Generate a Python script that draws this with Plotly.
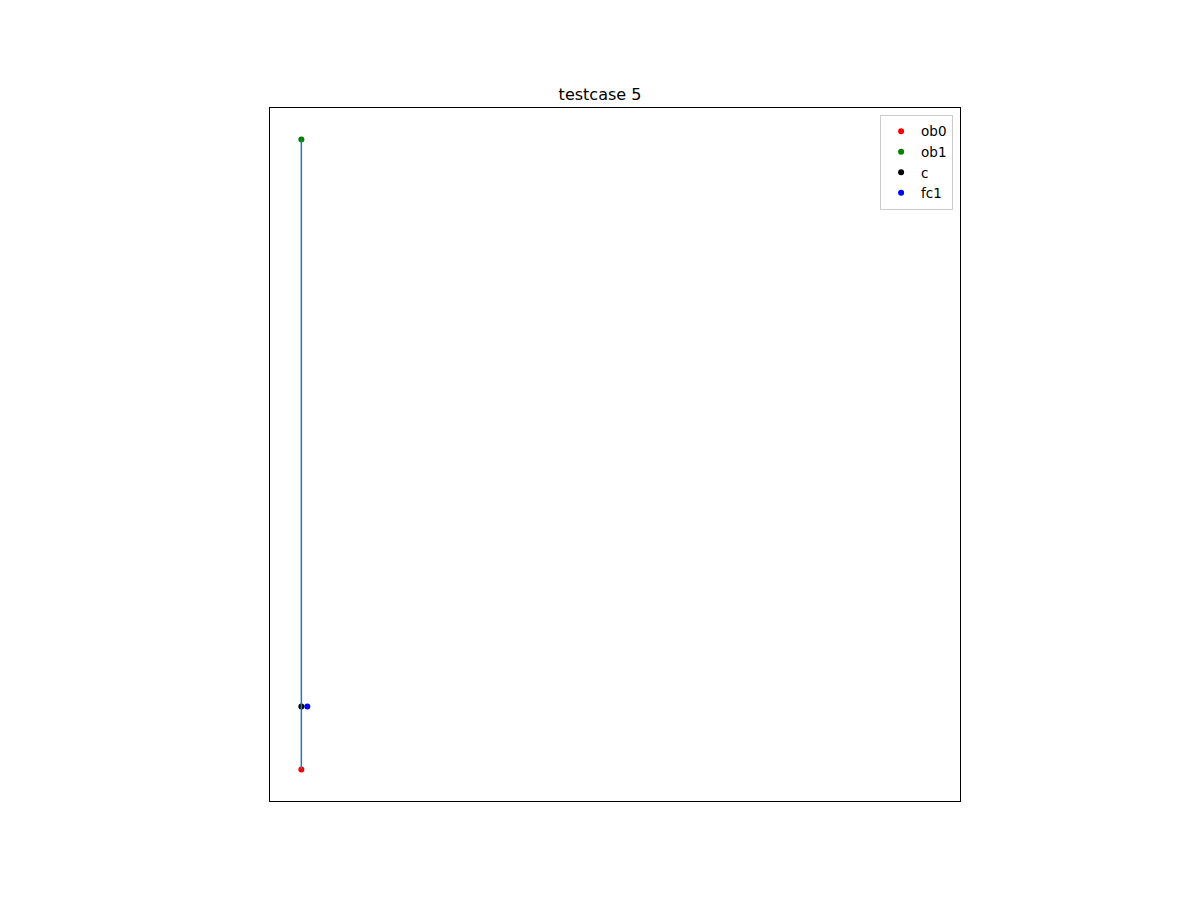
import plotly.graph_objects as go

names = ["ob0", "ob1", "c", "fc1"]
xs = [0.0, 0.0, 0.0, 0.095]
ys = [0.0, 10.0, 1.0, 1.0]
colors = ["red", "green", "black", "blue"]

line_x = [0.0, 0.0]
line_y = [0.0, 10.0]

fig = go.Figure()
for n, x, y, c in zip(names, xs, ys, colors):
    fig.add_trace(go.Scatter(x=[x], y=[y], mode="markers", name=n,
                             marker=dict(color=c, size=6, line=dict(width=0))))
fig.add_trace(go.Scatter(x=line_x, y=line_y, mode="lines", showlegend=False,
                         line=dict(color="#1f77b4", width=1.5)))

fig.update_layout(
    width=1200, height=900,
    margin=dict(l=270, r=240, t=108, b=99),
    plot_bgcolor="white", paper_bgcolor="white",
    font=dict(family="DejaVu Sans", size=13, color="black"),
    title=dict(text="testcase 5", x=0.5, xanchor="center", y=1 - 94 / 900, yanchor="middle",
               font=dict(size=16)),
    showlegend=True,
    legend=dict(x=0.99, y=0.99, xanchor="right", yanchor="top",
                bordercolor="#cccccc", borderwidth=1, bgcolor="white",
                font=dict(size=13.5), tracegroupgap=0),
    xaxis=dict(range=[-0.5, 10.5], showticklabels=False, ticks="", showgrid=False,
               zeroline=False, showline=True, linecolor="black", linewidth=1, mirror=True),
    yaxis=dict(range=[-0.5, 10.5], showticklabels=False, ticks="", showgrid=False,
               zeroline=False, showline=True, linecolor="black", linewidth=1, mirror=True),
)

fig.write_html("out.html")
